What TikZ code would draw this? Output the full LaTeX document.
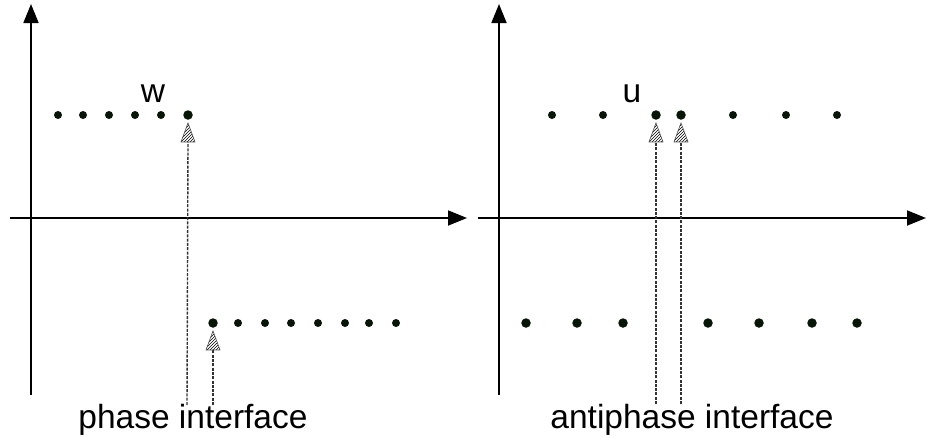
\documentclass[tikz,border=0pt]{standalone}
\usepackage{fontspec}
\setmainfont{Liberation Sans}
\usetikzlibrary{arrows.meta,patterns,calc}
\definecolor{dotc}{RGB}{8,22,8}
\begin{document}
\begin{tikzpicture}[x=1pt,y=-1pt,
  axis/.style={line width=1.8pt,-{Triangle[length=19pt,width=15pt]}},
  dotbig/.style={circle,fill=dotc,inner sep=0pt,minimum size=9.5pt},
  dotsmall/.style={circle,fill=dotc,inner sep=0pt,minimum size=8pt},
  conn/.style={line width=1.4pt,dash pattern=on 3pt off 1.3pt,black!80},
  hatchtip/.style={pattern=north east lines,pattern color=black,draw=black!70,line width=0.6pt},
  lbl/.style={font=\fontsize{33.5}{38}\selectfont,anchor=base,inner sep=0pt}]
\useasboundingbox (0,0) rectangle (927,437);

% ---------- left panel ----------
\coordinate (ly0) at (31,395); \coordinate (ly1) at (31,4);
\coordinate (lx0) at (10,218); \coordinate (lx1) at (467,218);
\draw[axis] (ly0) -- (ly1);
\draw[axis] (lx0) -- (lx1);

\foreach \x/\n in {58/1,83/2,109/3,135/4,161/5}
  \node[dotsmall] (lt\n) at (\x,115) {};
\node[dotbig] (lt6) at (188,115) {};
\node[dotbig] (lb1) at (213,323) {};
\foreach \x/\n in {238/2,265/3,291/4,318/5,345/6,369/7,396/8}
  \node[dotsmall] (lb\n) at (\x,323) {};

\node[lbl] (wlab) at (153,102) {w};
\node[lbl] (plab) at (193,428) {phase interface};

\coordinate (ls1) at (187,405);
\coordinate (ls2) at (213,405);
\coordinate (lt1tip) at ($(lt6.south)+(0,3)$);
\coordinate (lt2tip) at ($(lb1.south)+(0,3)$);
\draw[conn] (ls1) -- ($(lt1tip)+(0,19)$);
\draw[conn] (ls2) -- ($(lt2tip)+(0,19)$);
\path[hatchtip] (lt1tip) -- ++(-7,19) -- ++(14,0) -- cycle;
\path[hatchtip] (lt2tip) -- ++(-7,19) -- ++(14,0) -- cycle;

% ---------- right panel ----------
\coordinate (ry0) at (499,395); \coordinate (ry1) at (499,4);
\coordinate (rx0) at (478,218); \coordinate (rx1) at (926,218);
\draw[axis] (ry0) -- (ry1);
\draw[axis] (rx0) -- (rx1);

\foreach \x/\n in {552/1,603/2,733/5,786/6,837/7}
  \node[dotsmall] (rt\n) at (\x,115) {};
\node[dotbig] (rt3) at (656,115) {};
\node[dotbig] (rt4) at (681,115) {};
\foreach \x/\n in {526/1,577/2,623/3,708/4,759/5,812/6,857/7}
  \node[dotbig] (rb\n) at (\x,323) {};

\node[lbl] (ulab) at (632,102) {u};
\node[lbl] (alab) at (692,428) {antiphase interface};

\coordinate (rs1) at (656,404);
\coordinate (rs2) at (681,404);
\coordinate (rt1tip) at ($(rt3.south)+(0,3)$);
\coordinate (rt2tip) at ($(rt4.south)+(0,3)$);
\draw[conn] (rs1) -- ($(rt1tip)+(0,19)$);
\draw[conn] (rs2) -- ($(rt2tip)+(0,19)$);
\path[hatchtip] (rt1tip) -- ++(-7,19) -- ++(14,0) -- cycle;
\path[hatchtip] (rt2tip) -- ++(-7,19) -- ++(14,0) -- cycle;
\end{tikzpicture}
\end{document}
